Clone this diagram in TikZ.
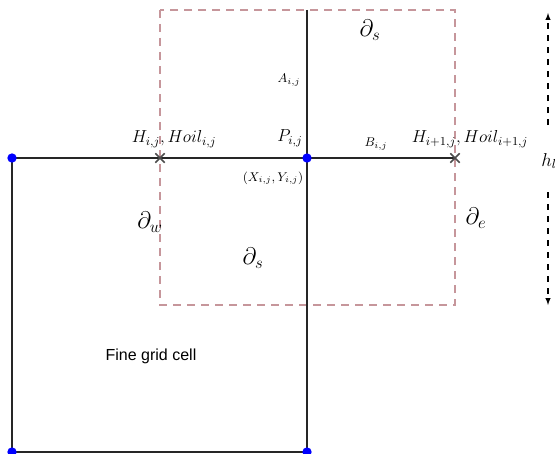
\RequirePackage{fix-cm}
\documentclass[tikz,border=0pt]{standalone}
\usepackage{fontspec}
\newfontfamily\cellfont{Liberation Sans}
\usepackage{xcolor}
\usetikzlibrary{arrows}
\usetikzlibrary{math}
\usetikzlibrary{shapes.misc}

\definecolor{boxpink}{RGB}{198,150,155}

\tikzset{
  gridline/.style={line width=1.5pt, black!85},
  ctrlbox/.style={draw=boxpink, line width=1.1pt, dash pattern=on 6pt off 4.5pt},
  gridpt/.style={circle, fill=blue, inner sep=0pt, minimum size=7pt},
  fluxpt/.style={cross out, draw=black!70, line width=1.1pt, inner sep=0pt, minimum size=6pt},
  biglabel/.style={font=\fontsize{13}{15}\selectfont},
  smalllabel/.style={font=\fontsize{9.5}{11}\selectfont},
  bdlabel/.style={font=\fontsize{18}{20}\selectfont},
  harrow/.style={-latex, line width=0.8pt, dash pattern=on 4.5pt off 4.5pt},
}

\begin{document}
\begin{tikzpicture}[x=0.75pt,y=-0.75pt]
\tikzmath{
\xw=12;
\xp=307;
\xe=455;
\xh=160;
\yn=10;
\yp=158;
\ys=305;
\yb=452;
}
\useasboundingbox (0,0) rectangle (555,453);

% control volume
\draw[ctrlbox] (\xh,\yn) rectangle (\xe,\ys);

% fine grid lines
\coordinate (NW) at (\xw,\yp);
\coordinate (SW) at (\xw,\yb);
\coordinate (SE) at (\xp,\yb);
\coordinate (P)  at (\xp,\yp);
\coordinate (Ptop) at (\xp,\yn);
\coordinate (Hw) at (\xh,\yp);
\coordinate (He) at (\xe,\yp);

\draw[gridline] (NW) -- (He);
\draw[gridline] (Ptop) -- (SE) -- (SW) -- (NW);

\node[fluxpt] (hw) at (Hw) {};
\node[fluxpt] (he) at (He) {};
\foreach \pt in {NW,SW,SE,P}
  \node[gridpt] at (\pt) {};

% labels
\node[bdlabel] (ds1) at (370,30) {$\partial_s$};
\node[bdlabel] (ds2) at (253,258) {$\partial_s$};
\node[bdlabel] (dw) at (150,222) {$\partial_w$};
\node[bdlabel] (de) at (476,218) {$\partial_e$};

\node[smalllabel] (aij) at (289,80) {$A_{i,j}$};
\node[smalllabel] (bij) at (376,144) {$B_{i,j}$};
\node[smalllabel] (xy) at (273,178) {$(X_{i,j},Y_{i,j})$};

\node[biglabel] (hij) at (174,139) {$H_{i,j}, Hoil_{i,j}$};
\node[biglabel] (pij) at (290,138) {$P_{i,j}$};
\node[biglabel] (hi1j) at (470,139) {$H_{i+1,j}, Hoil_{i+1,j}$};

\node[font=\cellfont\fontsize{12}{14}\selectfont] (cell) at (151,356) {Fine grid cell};

% height arrows
\node[font=\fontsize{14}{16}\selectfont, anchor=west, inner sep=0pt] (hl) at (541,161) {$h_l$};
\coordinate (hup) at (548,13);
\coordinate (hdn) at (548,305);
\draw[harrow] (548,125) -- (hup);
\draw[harrow] (548,192) -- (hdn);

\end{tikzpicture}
\end{document}
